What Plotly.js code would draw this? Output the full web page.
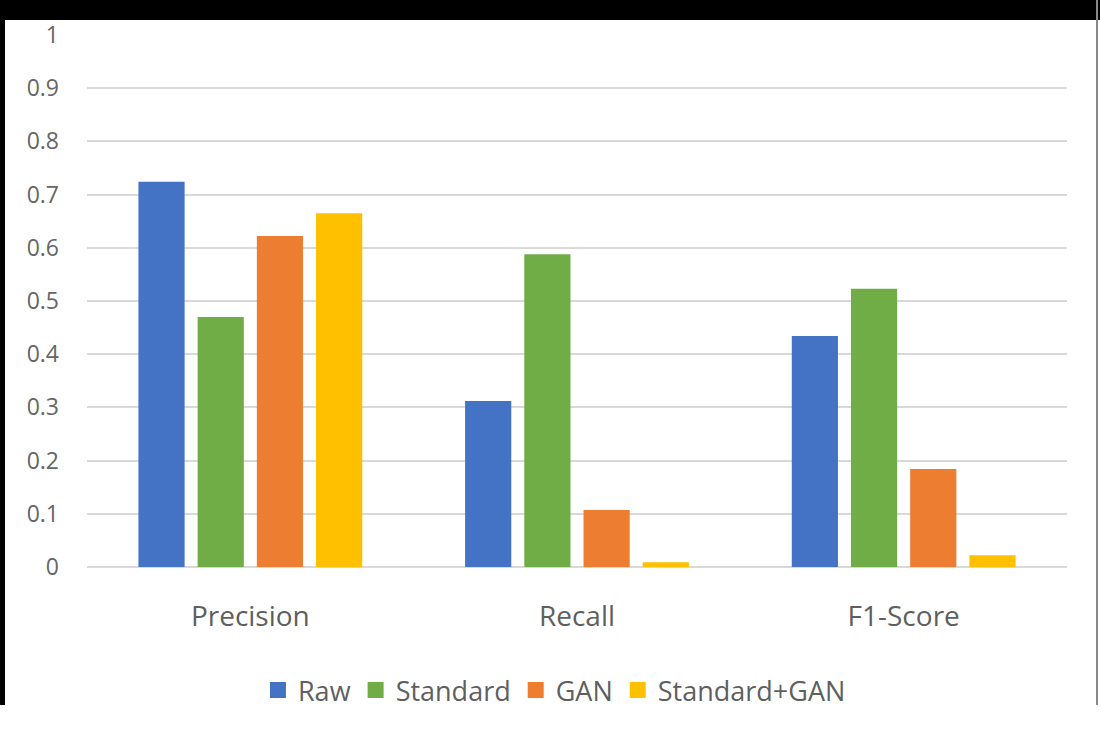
<!DOCTYPE html>
<html>
<head>
<meta charset="utf-8">
<script src="https://cdn.plot.ly/plotly-3.0.1.min.js"></script>
<style>
html,body{margin:0;padding:0;background:#fff;}
#wrap{position:relative;width:1100px;height:731px;overflow:hidden;background:#fff;}
#chart{position:absolute;left:0;top:0;width:1100px;height:731px;}
.frame{position:absolute;background:#000;}
</style>
</head>
<body>
<div id="wrap">
<div id="chart"></div>
<div class="frame" style="left:0;top:0;width:1100px;height:20px;"></div>
<div class="frame" style="left:0;top:0;width:5px;height:705px;"></div>
<div class="frame" style="left:1096px;top:0;width:2px;height:705px;background:#888;"></div>
</div>
<script>
const categories = ["Precision", "Recall", "F1-Score"];
const seriesNames = ["Raw", "Standard", "GAN", "Standard+GAN"];
const raw = [0.724, 0.312, 0.434];
const standard = [0.470, 0.588, 0.523];
const gan = [0.622, 0.107, 0.184];
const standardGan = [0.665, 0.009, 0.022];
const colors = ["#4472C4", "#70AD47", "#ED7D31", "#FFC000"];
const yTicks = [0, 0.1, 0.2, 0.3, 0.4, 0.5, 0.6, 0.7, 0.8, 0.9, 1];
const yTickText = ["0", "0.1", "0.2", "0.3", "0.4", "0.5", "0.6", "0.7", "0.8", "0.9", "1"];

const values = [raw, standard, gan, standardGan];
const traces = values.map((v, i) => ({
  type: "bar",
  name: seriesNames[i],
  x: categories,
  y: v,
  marker: {color: colors[i]},
  showlegend: false
}));
// legend entries with square markers (no data points)
seriesNames.forEach((n, i) => {
  traces.push({
    type: "scatter",
    mode: "markers",
    name: n,
    x: [null],
    y: [null],
    marker: {symbol: "square", size: 18, color: colors[i]},
    showlegend: true
  });
});

const font = "'Open Sans', sans-serif";
const layout = {
  width: 1100,
  height: 731,
  margin: {l: 87, r: 33, t: 35, b: 164},
  paper_bgcolor: "#fff",
  plot_bgcolor: "#fff",
  barmode: "group",
  bargap: 0.275,
  bargroupgap: 0.22,
  font: {family: font, color: "#5f5f5f"},
  xaxis: {
    type: "category",
    showgrid: false,
    zeroline: false,
    showline: false,
    ticks: "",
    tickfont: {size: 28, color: "#5f5f5f", family: font},
    ticklabelstandoff: 30
  },
  yaxis: {
    range: [0, 1],
    tickvals: yTicks,
    ticktext: yTickText,
    showgrid: true,
    gridcolor: "#d9d9d9",
    gridwidth: 2,
    zeroline: true,
    zerolinecolor: "#d9d9d9",
    zerolinewidth: 2,
    showline: false,
    ticks: "",
    tickfont: {size: 23, color: "#666666", family: font},
    ticklabelstandoff: 27
  },
  legend: {
    orientation: "h",
    x: 0.477,
    xanchor: "center",
    y: -0.232,
    yanchor: "middle",
    font: {size: 27, color: "#5f5f5f", family: font},
    itemwidth: 30,
    traceorder: "normal"
  },
  showlegend: true
};

Plotly.newPlot("chart", traces, layout, {displayModeBar: false, staticPlot: true});
</script>
</body>
</html>
